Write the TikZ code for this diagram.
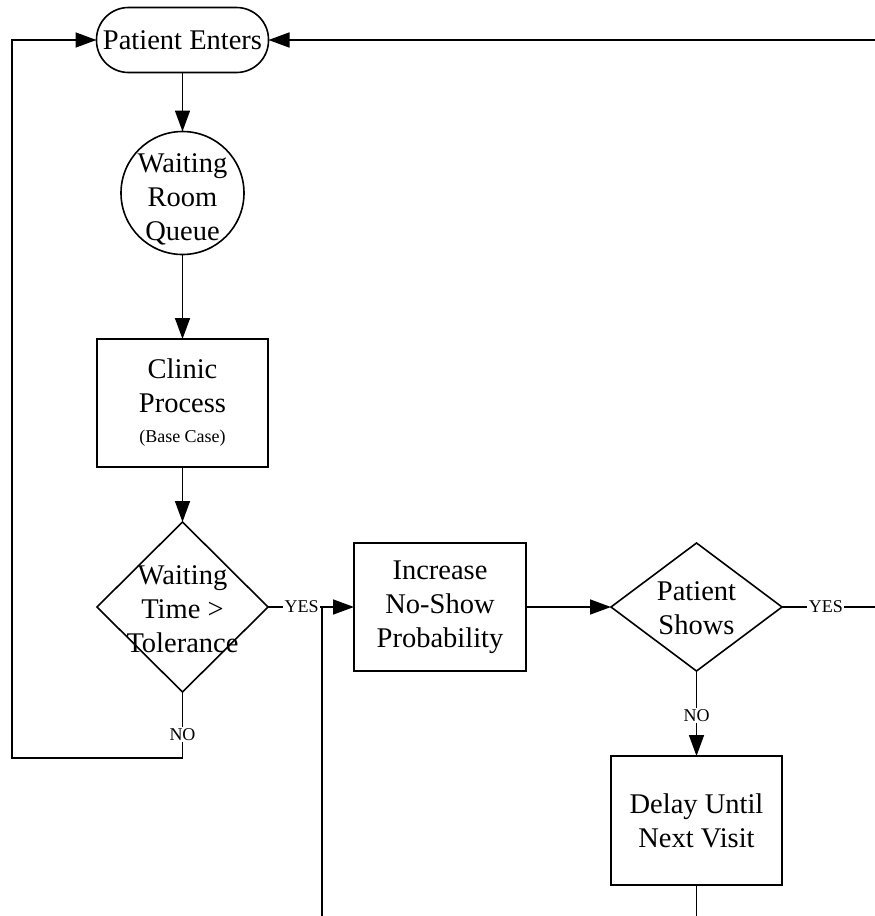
\documentclass[tikz,border=0pt]{standalone}
\usepackage{fontspec}
\setmainfont{Liberation Serif}
\usetikzlibrary{shapes.geometric,arrows.meta}
\begin{document}
\begin{tikzpicture}[x=1pt,y=-1pt,
  every node/.style={inner sep=0pt,outer sep=0pt},
  big/.style={font=\fontsize{28.5}{34}\selectfont,align=center},
  base/.style={big,draw=black,line width=1.6pt},
  boxnode/.style={base,rectangle,minimum width=171pt,minimum height=128pt},
  decnode/.style={base,diamond,minimum width=171pt},
  lbl/.style={fill=white,inner sep=1.5pt,font=\fontsize{18}{20}\selectfont},
  conn/.style={line width=1.6pt,draw=black},
  arr/.style={conn,-{Triangle[length=21pt,width=15pt]}}]
\useasboundingbox (0,0) rectangle (875,916);
\clip (0,0) rectangle (875,916);
% nodes
\node[base,rectangle,rounded corners=32pt,minimum width=172pt,minimum height=65pt] (start) at (182.5,40) {Patient Enters};
\node[base,circle,minimum size=123pt] (queue) at (182.5,193) {};
\node[big] (queuetxt) at (182.5,199) {Waiting\\Room\\Queue};
\node[boxnode] (clinic) at (182.5,403) {Clinic\\Process\\[-4pt]{\fontsize{18}{22}\selectfont (Base Case)}};
\node[decnode,minimum height=170pt] (d1) at (182.5,607) {};
\node[big] (d1txt) at (182.5,609) {Waiting\\Time >\\Tolerance};
\node[boxnode,minimum width=172pt] (inc) at (440,607) {Increase\\No-Show\\Probability};
\node[decnode,minimum height=128pt] (d2) at (696.5,607) {};
\node[big] (d2txt) at (696.5,608) {Patient\\Shows};
\node[boxnode,minimum height=129pt] (delay) at (696.5,820.5) {Delay Until\\Next Visit};
% helper coordinates
\coordinate (c1) at (182.5,758);
\coordinate (c2) at (12,758);
\coordinate (c4) at (696.5,917.5);
\coordinate (c5) at (322,607);
\coordinate (c6) at (877.5,607);
\coordinate (c7) at (877.5,40);
% connectors
\draw[arr] (start.south) -- (queue.north);
\draw[arr] (queue.south) -- (clinic.north);
\draw[arr] (clinic.south) -- (d1.north);
\draw[arr] (d1.south) -- node[lbl,pos=0.65]{NO} (c1) -- (c2) |- (start.west);
\draw[arr] (d1.east) -- node[lbl,pos=0.39]{YES} (inc.west);
\draw[arr] (inc.east) -- (d2.west);
\draw[arr] (d2.south) -- node[lbl,pos=0.52]{NO} (delay.north);
\draw[arr] (d2.east) -- node[lbl,pos=0.46]{YES} (c6) -- (c7) -- (start.east);
\draw[conn] (delay.south) -- (c4) -| (c5);
\end{tikzpicture}
\end{document}
